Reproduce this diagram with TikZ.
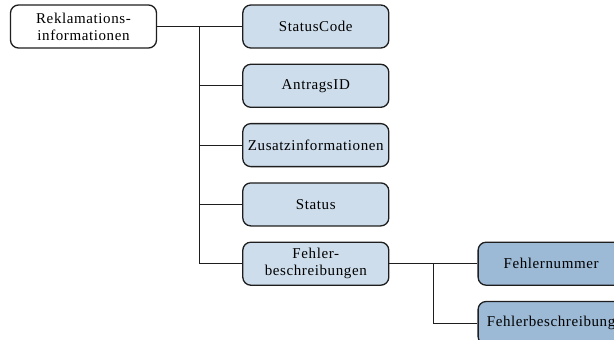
\documentclass[tikz,border=0pt]{standalone}
\usepackage{fontspec}
\setmainfont{Liberation Serif}[LetterSpace=4]
\definecolor{BoxBlue}{HTML}{CDDDEB}
\definecolor{DeepBlue}{HTML}{9CB9D6}
\definecolor{EdgeGray}{HTML}{1E1E1E}
\usepackage{tikz}
\usetikzlibrary{arrows.meta,positioning,calc}

\begin{document}
\begin{tikzpicture}[x=1pt,y=-1pt,node distance=15pt and 85pt,
    box/.style={rounded corners=8pt,draw=EdgeGray,line width=1.3pt,
                fill=BoxBlue,minimum height=43pt,minimum width=146pt,
                font=\fontsize{15}{17}\selectfont,text=black,
                inner sep=1pt,align=center},
    link/.style={line width=1pt,EdgeGray}]

    \useasboundingbox (0,0) rectangle (614,340);
    \clip (0,0) rectangle (614,340);

    \node[box,fill=white] (root) at (83.5,26.5) {Reklamations-\\informationen};
    \node[box] (scode)  [right=of root]   {StatusCode};
    \node[box] (antrag) [below=of scode]  {AntragsID};
    \node[box] (zusatz) [below=of antrag] {Zusatzinformationen};
    \node[box] (stat)   [below=of zusatz] {Status};
    \node[box] (fbes)   [below=of stat]   {Fehler-\\beschreibungen};
    \node[box,fill=DeepBlue] (fnum) [right=88pt of fbes] {Fehlernummer};
    \node[box,fill=DeepBlue] (fdesc) [below=of fnum] {Fehlerbeschreibung};

    % first level
    \draw[link] (root) -- (scode);
    \coordinate (trunk) at ($(root.east)!0.5!(scode.west)$);
    \foreach \n in {antrag,zusatz,stat,fbes}{
      \draw[link] (trunk) |- (\n.west);
    }

    % second level
    \draw[link] (fbes) -- (fnum);
    \coordinate (subtrunk) at ($(fbes.east)!0.5!(fnum.west)$);
    \draw[link] (subtrunk) |- (fdesc.west);
  \end{tikzpicture}
\end{document}
